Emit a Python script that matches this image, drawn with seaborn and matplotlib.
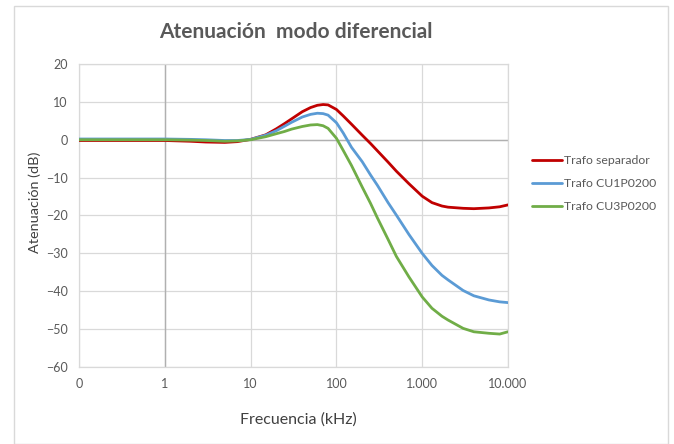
import matplotlib
matplotlib.use("Agg")
import matplotlib.pyplot as plt
import seaborn as sns
import pandas as pd
from matplotlib.patches import Rectangle

freq = [0.1, 0.3, 1, 2, 3, 5, 7, 10, 15, 20, 25, 30, 40, 50, 60, 70, 80, 100, 120,
        150, 200, 250, 300, 400, 500, 700, 1000, 1300, 1700, 2000, 3000, 4000,
        6000, 8000, 10000]
trafo_separador = [-0.2, -0.2, -0.2, -0.4, -0.6, -0.7, -0.5, 0.1, 1.3, 2.9, 4.3, 5.5,
                   7.4, 8.5, 9.1, 9.3, 9.2, 8.0, 6.3, 4.1, 1.2, -1.0, -2.9, -5.9,
                   -8.3, -11.6, -14.9, -16.6, -17.5, -17.8, -18.1, -18.2, -18.0,
                   -17.7, -17.2]
trafo_cu1 = [0.2, 0.2, 0.2, 0.1, 0.0, -0.2, -0.2, 0.1, 1.2, 2.4, 3.6, 4.6, 6.0, 6.7,
             7.0, 6.9, 6.5, 4.5, 1.8, -2.0, -5.8, -9.3, -12.0, -16.6, -19.9, -25.0,
             -30.0, -33.2, -35.8, -37.0, -39.8, -41.2, -42.3, -42.8, -43.0]
trafo_cu3 = [0.0, 0.0, 0.0, -0.1, -0.2, -0.4, -0.3, 0.0, 0.8, 1.6, 2.2, 2.8, 3.5, 3.9,
             4.0, 3.7, 3.0, 0.4, -2.8, -6.8, -12.5, -16.8, -20.6, -26.3, -30.8,
             -36.2, -41.5, -44.5, -46.6, -47.6, -49.8, -50.7, -51.1, -51.3, -50.7]
series_names = ["Trafo separador", "Trafo CU1P0200", "Trafo CU3P0200"]
colors = ["#C00000", "#5B9BD5", "#70AD47"]
x_ticks = [0.1, 1, 10, 100, 1000, 10000]
x_ticklabels = ["0", "1", "10", "100", "1.000", "10.000"]
y_ticks = [-60, -50, -40, -30, -20, -10, 0, 10, 20]

rows = []
for name, vals in zip(series_names, [trafo_separador, trafo_cu1, trafo_cu3]):
    for f, v in zip(freq, vals):
        rows.append({"Frecuencia": f, "Atenuacion": v, "Serie": name})
df = pd.DataFrame(rows)

sns.set_style("white")
plt.rcParams["font.family"] = ["Lato", "DejaVu Sans"]

fig = plt.figure(figsize=(6.74, 4.44), dpi=100)
fig.patches.append(Rectangle((14 / 674, 0), (668 - 14) / 674, 1 - 6 / 444,
                             transform=fig.transFigure, fill=False,
                             edgecolor="#D9D9D9", linewidth=1.0, zorder=0))
ax = fig.add_axes([79 / 674, 1 - 367 / 444, (508 - 79) / 674, (367 - 64) / 444])

sns.lineplot(data=df, x="Frecuencia", y="Atenuacion", hue="Serie",
             hue_order=series_names, palette=colors, linewidth=2.0, ax=ax,
             zorder=3)
ax.set_xscale("log")
ax.set_xlim(0.1, 10000)
ax.set_ylim(-60, 20)
ax.set_xticks(x_ticks)
ax.set_xticklabels(x_ticklabels)
ax.minorticks_off()
ax.set_yticks(y_ticks)
ax.tick_params(axis="both", length=0, labelsize=9, labelcolor="#595959", pad=8)
ax.grid(True, color="#D9D9D9", linewidth=0.9)
ax.axhline(0, color="#B0B0B0", linewidth=1.0, zorder=2)
ax.axvline(1, color="#B0B0B0", linewidth=1.0, zorder=2)
for s in ax.spines.values():
    s.set_color("#D9D9D9")
    s.set_linewidth(0.9)

ax.set_xlabel("")
ax.set_ylabel("")
fig.text(298 / 674, 1 - 420 / 444, "Frecuencia (kHz)", ha="center", va="center",
         fontsize=11.5, color="#404040")
fig.text(35 / 674, 1 - 202 / 444, "Atenuación (dB)", ha="center", va="center",
         rotation=90, fontsize=10.4, color="#404040")
fig.text(296 / 674, 1 - 32 / 444, "Atenuación  modo diferencial", ha="center",
         va="center", fontsize=15, fontweight="bold", color="#595959")

handles, labels = ax.get_legend_handles_labels()
leg = ax.legend(handles, labels, loc="upper left", bbox_to_anchor=(1.056, 0.70),
                frameon=False, fontsize=8.8, labelcolor="#595959",
                handlelength=2.45, handletextpad=0.15, labelspacing=1.0,
                borderpad=0, borderaxespad=0)

fig.savefig("out.png", dpi=100)
